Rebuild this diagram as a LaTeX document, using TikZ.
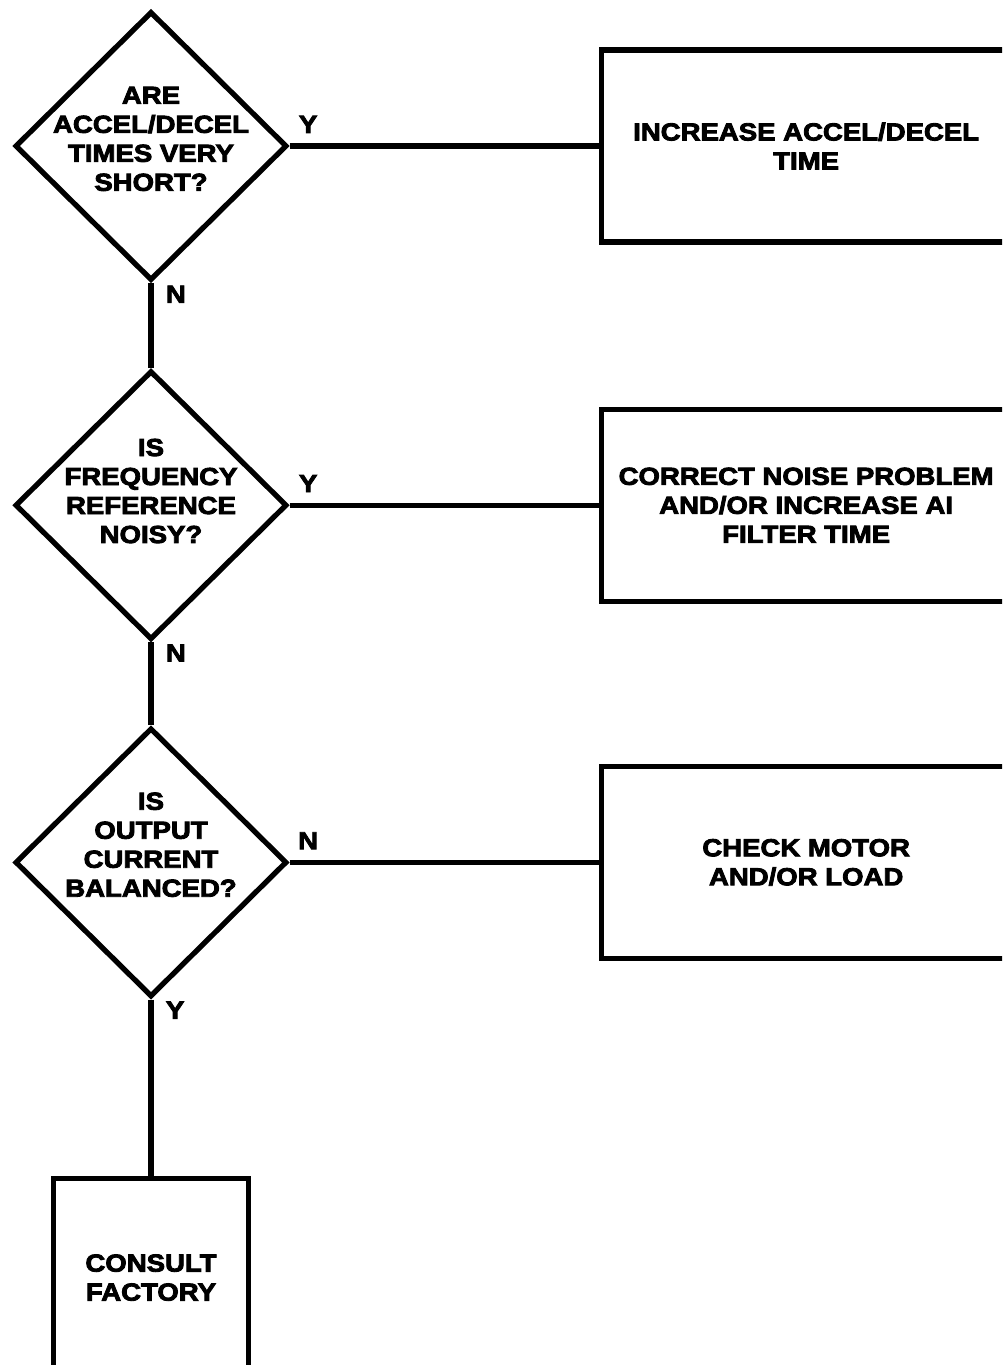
\documentclass[tikz,border=0pt]{standalone}
\usepackage{fontspec}
\newfontfamily\chartfont{Liberation Sans}[FakeStretch=1.12,FakeBold=3.5]
\usetikzlibrary{positioning,shapes.geometric}
% text block lifted inside the diamond by extra depth below the last line
\newcommand{\chartlines}[2]{\begin{tabular}{@{}c@{}}#2\\[#1]\end{tabular}}
\tikzset{
  chart decision/.style={draw=black,line width=3pt,diamond,inner sep=-1cm,
    minimum width=5.44cm,minimum height=5.38cm,
    font=\chartfont\bfseries\fontsize{14}{16.5}\selectfont},
  chart action/.style={draw=black,line width=3pt,rectangle,align=center,
    minimum width=8.2cm,minimum height=3.84cm,inner sep=0pt,
    font=\chartfont\bfseries\fontsize{14}{16.5}\selectfont},
  chart line/.style={draw=black,line width=3pt},
  chart label/.style={font=\chartfont\bfseries\fontsize{14}{16.5}\selectfont,inner sep=3pt}
}
\begin{document}
\begin{tikzpicture}[x=0.02cm,y=-0.02cm]
  \useasboundingbox (0,0) rectangle (1002,1365);
  \clip (0,0) rectangle (1002,1365);
  \node[chart decision] (accel) at (151,146) {\chartlines{0.18cm}{ARE\\ACCEL/DECEL\\TIMES VERY\\SHORT?}};
  \node[chart decision,below=1.70cm of accel] (noise) {\chartlines{0.46cm}{IS\\FREQUENCY\\REFERENCE\\NOISY?}};
  \node[chart decision,below=1.66cm of noise] (current) {\chartlines{0.6cm}{IS\\OUTPUT\\CURRENT\\BALANCED?}};
  \node[chart action,right=6.18cm of accel] (ramp) {INCREASE ACCEL/DECEL\\TIME};
  \node[chart action,right=6.18cm of noise] (filter) {CORRECT NOISE PROBLEM\\AND/OR INCREASE AI\\FILTER TIME};
  \node[chart action,right=6.18cm of current] (motor) {CHECK MOTOR\\AND/OR LOAD};
  \node[chart action,minimum width=3.9cm,minimum height=3.96cm,below=3.53cm of current] (factory) {CONSULT\\FACTORY};
  \draw[chart line] (accel.east) -- node[chart label,pos=.06,above=3pt] {Y} (ramp.west);
  \draw[chart line] (noise.east) -- node[chart label,pos=.06,above=3pt] {Y} (filter.west);
  \draw[chart line] (current.east) -- node[chart label,pos=.06,above=3pt] {N} (motor.west);
  \draw[chart line] (accel.south) -- node[chart label,pos=.13,right=4pt] {N} (noise.north);
  \draw[chart line] (noise.south) -- node[chart label,pos=.13,right=4pt] {N} (current.north);
  \draw[chart line] (current.south) -- node[chart label,pos=.06,right=4pt] {Y} (factory.north);
\end{tikzpicture}
\end{document}
